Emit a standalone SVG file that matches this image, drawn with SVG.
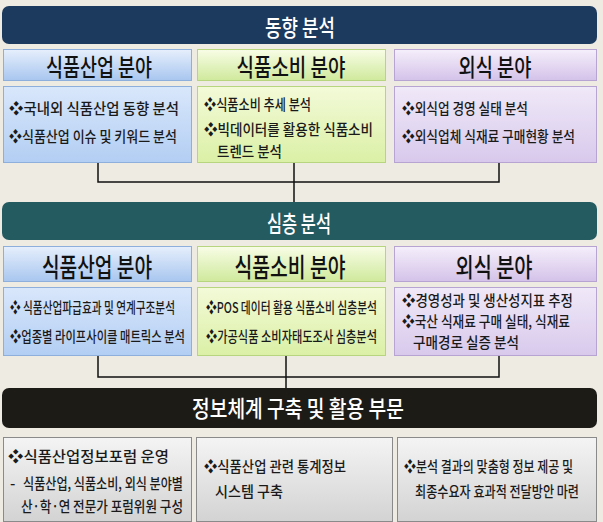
<svg xmlns="http://www.w3.org/2000/svg" width="603" height="522" viewBox="0 0 603 522">
<defs>
<linearGradient id="gBlueH" x1="0" y1="0" x2="0" y2="1"><stop offset="0" stop-color="#e6effc"/><stop offset="1" stop-color="#a8c6ef"/></linearGradient>
<linearGradient id="gGreenH" x1="0" y1="0" x2="0" y2="1"><stop offset="0" stop-color="#f8fde6"/><stop offset="1" stop-color="#cfe99c"/></linearGradient>
<linearGradient id="gPurpH" x1="0" y1="0" x2="0" y2="1"><stop offset="0" stop-color="#f5effb"/><stop offset="1" stop-color="#d4c2e9"/></linearGradient>
<linearGradient id="gBlueC" x1="0" y1="0" x2="0" y2="1"><stop offset="0" stop-color="#d9e7fb"/><stop offset="1" stop-color="#b2cef3"/></linearGradient>
<linearGradient id="gGreenC" x1="0" y1="0" x2="0" y2="1"><stop offset="0" stop-color="#f3fad8"/><stop offset="1" stop-color="#dbf0a6"/></linearGradient>
<linearGradient id="gPurpC" x1="0" y1="0" x2="0" y2="1"><stop offset="0" stop-color="#f0e9f8"/><stop offset="1" stop-color="#d8c9ec"/></linearGradient>
<linearGradient id="gGrey" x1="0" y1="0" x2="0" y2="1"><stop offset="0" stop-color="#f4f4f4"/><stop offset="1" stop-color="#d3d3d3"/></linearGradient>
</defs>
<style>
text{font-family:"Noto Sans CJK KR","Noto Sans",sans-serif;font-weight:500;}
.title{fill:#ffffff;font-size:23px;text-anchor:middle;}
.head{fill:#111111;font-size:24px;text-anchor:middle;}
.head2{fill:#111111;font-size:26px;text-anchor:middle;}
.t{fill:#1a1a1a;font-size:15px;}
.hb{fill:url(#gBlueH);stroke:#8eafdc;stroke-width:1;}
.hg{fill:url(#gGreenH);stroke:#b7d47e;stroke-width:1;}
.hp{fill:url(#gPurpH);stroke:#b8a4d2;stroke-width:1;}
.cb{fill:url(#gBlueC);stroke:#8eafdc;stroke-width:1;}
.cg{fill:url(#gGreenC);stroke:#b7d47e;stroke-width:1;}
.cp{fill:url(#gPurpC);stroke:#b8a4d2;stroke-width:1;}
.cgr{fill:url(#gGrey);stroke:#8a8a8a;stroke-width:1;}
.ln{fill:none;stroke:#111111;stroke-width:1.5;}
</style>
<rect x="0" y="0" width="603" height="522" fill="#eeebe3"/>

<g id="connectors">
<polyline class="ln" points="98,163 98,182 499,182 499,163"/>
<line class="ln" x1="294" y1="163" x2="294" y2="202"/>
<polyline class="ln" points="98,356 98,377 499,377 499,356"/>
<line class="ln" x1="286" y1="356" x2="286" y2="388"/>
</g>

<g id="bar-trend">
<rect x="2" y="6" width="595" height="38" rx="7" fill="#1c3a5e"/>
<text class="title" x="300" y="36" textLength="70" lengthAdjust="spacingAndGlyphs">동향 분석</text>
</g>
<g id="h1-industry"><rect class="hb" x="3.5" y="49.5" width="188" height="31"/><text class="head" x="99" y="76" textLength="106" lengthAdjust="spacingAndGlyphs">식품산업 분야</text></g>
<g id="h1-consumption"><rect class="hg" x="197.5" y="49.5" width="188" height="31"/><text class="head" x="291" y="76" textLength="109" lengthAdjust="spacingAndGlyphs">식품소비 분야</text></g>
<g id="h1-foodservice"><rect class="hp" x="394.5" y="49.5" width="202" height="31"/><text class="head" x="495" y="76" textLength="73" lengthAdjust="spacingAndGlyphs">외식 분야</text></g>

<g id="c1-industry"><rect class="cb" x="3.5" y="86.5" width="188" height="76"/>
<text class="t" x="9" y="114" textLength="170" lengthAdjust="spacingAndGlyphs">❖국내외 식품산업 동향 분석</text>
<text class="t" x="9" y="142" textLength="168" lengthAdjust="spacingAndGlyphs">❖식품산업 이슈 및 키워드 분석</text></g>
<g id="c1-consumption"><rect class="cg" x="197.5" y="86.5" width="188" height="76"/>
<text class="t" x="204" y="110" textLength="107" lengthAdjust="spacingAndGlyphs">❖식품소비 추세 분석</text>
<text class="t" x="204" y="135" textLength="169" lengthAdjust="spacingAndGlyphs">❖빅데이터를 활용한 식품소비</text>
<text class="t" x="217" y="157" textLength="65" lengthAdjust="spacingAndGlyphs">트렌드 분석</text></g>
<g id="c1-foodservice"><rect class="cp" x="394.5" y="86.5" width="202" height="76"/>
<text class="t" x="402" y="114" textLength="126" lengthAdjust="spacingAndGlyphs">❖외식업 경영 실태 분석</text>
<text class="t" x="402" y="142" textLength="173" lengthAdjust="spacingAndGlyphs">❖외식업체 식재료 구매현황 분석</text></g>

<g id="bar-deep">
<rect x="2" y="202" width="595" height="38" rx="7" fill="#245b61"/>
<text class="title" x="299" y="232" textLength="64" lengthAdjust="spacingAndGlyphs">심층 분석</text>
</g>
<g id="h2-industry"><rect class="hb" x="3.5" y="246.5" width="188" height="35"/><text class="head2" x="97" y="277" textLength="110" lengthAdjust="spacingAndGlyphs">식품산업 분야</text></g>
<g id="h2-consumption"><rect class="hg" x="197.5" y="246.5" width="188" height="35"/><text class="head2" x="290" y="277" textLength="111" lengthAdjust="spacingAndGlyphs">식품소비 분야</text></g>
<g id="h2-foodservice"><rect class="hp" x="394.5" y="246.5" width="202" height="35"/><text class="head2" x="494" y="277" textLength="77" lengthAdjust="spacingAndGlyphs">외식 분야</text></g>

<g id="c2-industry"><rect class="cb" x="3.5" y="287.5" width="188" height="68"/>
<text class="t" x="10" y="313" textLength="165" lengthAdjust="spacingAndGlyphs">❖ 식품산업파급효과 및 연계구조분석</text>
<text class="t" x="10" y="342" textLength="175" lengthAdjust="spacingAndGlyphs">❖업종별 라이프사이클 매트릭스 분석</text></g>
<g id="c2-consumption"><rect class="cg" x="197.5" y="287.5" width="188" height="68"/>
<text class="t" x="206" y="313" textLength="171" lengthAdjust="spacingAndGlyphs">❖POS 데이터 활용 식품소비 심층분석</text>
<text class="t" x="206" y="342" textLength="171" lengthAdjust="spacingAndGlyphs">❖가공식품 소비자태도조사 심층분석</text></g>
<g id="c2-foodservice"><rect class="cp" x="394.5" y="287.5" width="202" height="68"/>
<text class="t" x="402" y="306" textLength="171" lengthAdjust="spacingAndGlyphs">❖경영성과 및 생산성지표 추정</text>
<text class="t" x="402" y="327" textLength="168" lengthAdjust="spacingAndGlyphs">❖국산 식재료 구매 실태, 식재료</text>
<text class="t" x="413" y="348" textLength="106" lengthAdjust="spacingAndGlyphs">구매경로 실증 분석</text></g>

<g id="bar-info">
<rect x="2" y="388" width="595" height="40" rx="7" fill="#1d1b16"/>
<text class="title" x="298" y="417" textLength="212" lengthAdjust="spacingAndGlyphs">정보체계 구축 및 활용 부문</text>
</g>
<g id="b-forum"><rect class="cgr" x="3.5" y="437.5" width="188" height="84"/>
<text class="t" x="8" y="462" textLength="161" lengthAdjust="spacingAndGlyphs">❖식품산업정보포럼 운영</text>
<text class="t" x="10" y="489">-</text>
<text class="t" x="23" y="489" textLength="160" lengthAdjust="spacingAndGlyphs">식품산업, 식품소비, 외식  분야별</text>
<text class="t" x="21" y="512" textLength="162" lengthAdjust="spacingAndGlyphs">산·학·연 전문가 포럼위원 구성</text></g>
<g id="b-stats"><rect class="cgr" x="196.5" y="437.5" width="196" height="84"/>
<text class="t" x="204" y="472" textLength="142" lengthAdjust="spacingAndGlyphs">❖식품산업 관련 통계정보</text>
<text class="t" x="215" y="497" textLength="68" lengthAdjust="spacingAndGlyphs">시스템 구축</text></g>
<g id="b-delivery"><rect class="cgr" x="397.5" y="437.5" width="199" height="84"/>
<text class="t" x="404" y="472" textLength="169" lengthAdjust="spacingAndGlyphs">❖분석 결과의 맞춤형 정보 제공 및</text>
<text class="t" x="415" y="497" textLength="164" lengthAdjust="spacingAndGlyphs">최종수요자 효과적 전달방안 마련</text></g>
</svg>
